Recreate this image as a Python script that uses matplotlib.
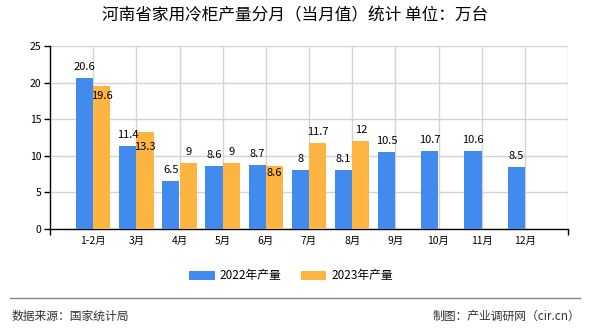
import matplotlib
matplotlib.use('Agg')
import matplotlib.pyplot as plt
import numpy as np

plt.rcParams['font.family'] = ['Noto Sans CJK SC', 'DejaVu Sans']

# data
months = ['1-2月', '3月', '4月', '5月', '6月', '7月', '8月', '9月', '10月', '11月', '12月']
prod_2022 = [20.6, 11.4, 6.5, 8.6, 8.7, 8, 8.1, 10.5, 10.7, 10.6, 8.5]
prod_2023 = [19.6, 13.3, 9, 9, 8.6, 11.7, 12]
series_names = ['2022年产量', '2023年产量']
yticks = [0, 5, 10, 15, 20, 25]

blue = '#428BEE'
orange = '#FDB441'
# label offsets (pixels) for 2023 labels; negative = drawn inside bar top
dy_2023 = [-10, -15, 11, 11, -7, 11, 11]

fig = plt.figure(figsize=(5.9, 3.3), dpi=100)
ax = fig.add_axes([50/590, 101/330, 518/590, 183/330])

x = np.arange(len(months))
w = 0.4
b1 = ax.bar(x - w/2, prod_2022, w, color=blue, label=series_names[0], zorder=3)
x2 = np.arange(len(prod_2023))
b2 = ax.bar(x2 + w/2, prod_2023, w, color=orange, label=series_names[1], zorder=3)

for xi, v in zip(x, prod_2022):
    ax.annotate(f'{v:g}', (xi - w/2, v), xytext=(0, 11), textcoords='offset pixels',
                ha='center', va='center', fontsize=8, zorder=5)
for xi, v, dy in zip(x2, prod_2023, dy_2023):
    ax.annotate(f'{v:g}', (xi + w/2, v), xytext=(0, dy), textcoords='offset pixels',
                ha='center', va='center', fontsize=8, zorder=5)

ax.set_xlim(-1, 11)
ax.set_ylim(0, 25)
ax.set_yticks(yticks)
ax.set_xticks(x)
ax.set_xticklabels(months, fontsize=7.5)
ax.set_xticks(np.arange(-1, 12), minor=True)
ax.tick_params(axis='x', which='major', length=0, pad=5)
ax.tick_params(axis='x', which='minor', length=4, width=1)
ax.tick_params(axis='y', length=4, width=1, labelsize=7.5, pad=2)

ax.grid(True, axis='y', color='#d3d3d3', linewidth=1, zorder=0)
for g in range(0, 12):
    ax.axvline(g, color='#d3d3d3', linewidth=1, zorder=0)
ax.spines['top'].set_visible(False)
ax.spines['right'].set_visible(False)
ax.spines['left'].set_linewidth(1)
ax.spines['bottom'].set_linewidth(1)

fig.text(0.5, 1 - 16/330, '河南省家用冷柜产量分月（当月值）统计 单位：万台',
         ha='center', va='center', fontsize=12)

fig.legend(handles=[b1, b2], labels=series_names, loc='center',
           bbox_to_anchor=(291/590, 1 - 276/330), ncol=2, frameon=False,
           fontsize=8.5, handlelength=2.2, handleheight=0.8, columnspacing=1.6,
           handletextpad=0.4)

fig.add_artist(plt.Line2D([10/590, 580/590], [1 - 298/330, 1 - 298/330],
                          color='#888888', linewidth=1))
fig.text(12/590, 1 - 316/330, '数据来源：国家统计局', ha='left', va='center',
         fontsize=8.5, color='#333333')
fig.text(580/590, 1 - 316/330, '制图：产业调研网（cir.cn）', ha='right', va='center',
         fontsize=8.5, color='#333333')

fig.savefig('out.png', dpi=100)
